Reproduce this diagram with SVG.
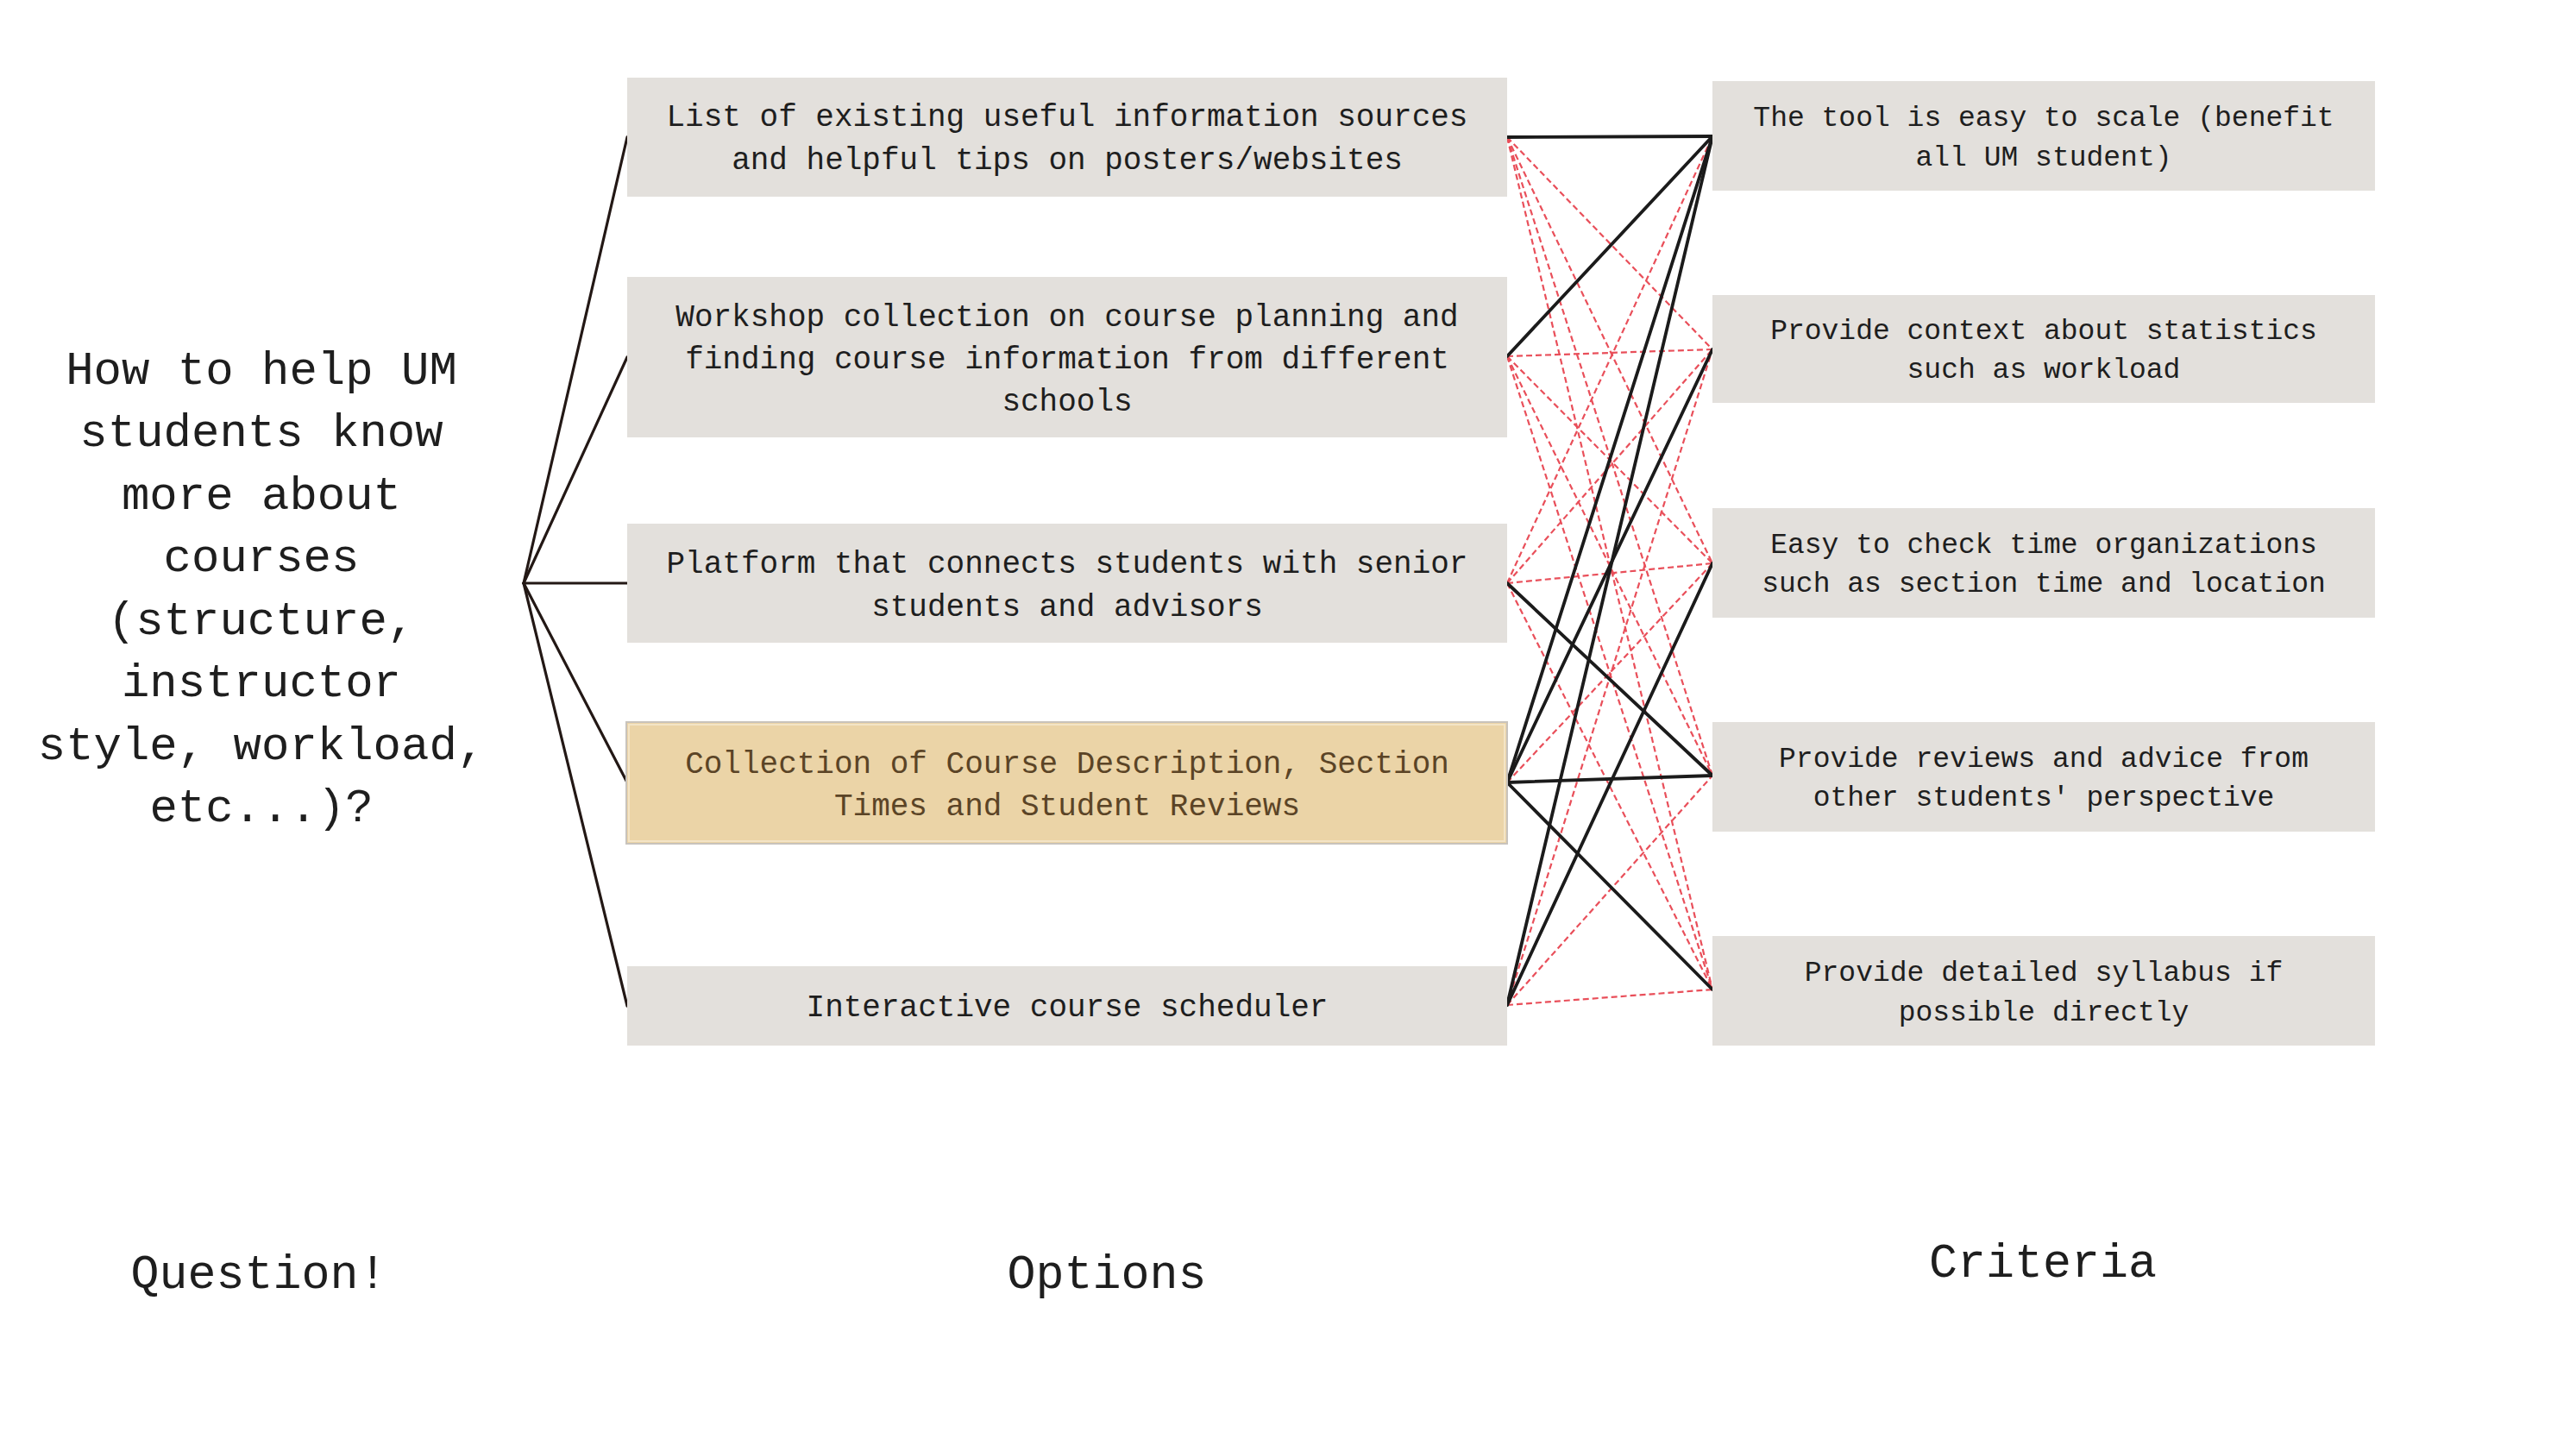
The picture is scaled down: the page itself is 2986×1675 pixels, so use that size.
<svg xmlns="http://www.w3.org/2000/svg" width="2986" height="1675" viewBox="0 0 2986 1675">
<style>
text{font-family:"Liberation Mono","DejaVu Sans Mono",monospace;fill:#1e1e1e;text-anchor:middle}
.box{fill:#e3e0dc}
.opt{font-size:36px}
.crit{font-size:33px}
.q{font-size:54px}
.lab{font-size:55px}
.hub{stroke:#231815;stroke-width:3.2;fill:none;stroke-linecap:round}
.yes{stroke:#1b1b1b;stroke-width:3.8;fill:none;stroke-linecap:round}
.no{stroke:#e94f5a;stroke-width:2.2;fill:none;stroke-dasharray:7 4}
.hl{fill:#5b4426}
</style>
<rect width="2986" height="1675" fill="#ffffff"/>
<g id="question">
<text class="q" x="303" y="445">How to help UM</text>
<text class="q" x="303" y="517">students know</text>
<text class="q" x="303" y="590">more about</text>
<text class="q" x="303" y="662">courses</text>
<text class="q" x="303" y="735">(structure,</text>
<text class="q" x="303" y="807">instructor</text>
<text class="q" x="303" y="880">style, workload,</text>
<text class="q" x="303" y="952">etc...)?</text>
</g>
<g id="connectors">
<g id="hub-lines">
<line class="hub" x1="607" y1="676" x2="727" y2="159"/>
<line class="hub" x1="607" y1="676" x2="727" y2="414"/>
<line class="hub" x1="607" y1="676" x2="727" y2="676"/>
<line class="hub" x1="607" y1="676" x2="727" y2="907"/>
<line class="hub" x1="607" y1="676" x2="727" y2="1166"/>
</g>
<g id="weak-links">
<line class="no" x1="1747" y1="159" x2="1985" y2="405"/>
<line class="no" x1="1747" y1="159" x2="1985" y2="653"/>
<line class="no" x1="1747" y1="159" x2="1985" y2="899"/>
<line class="no" x1="1747" y1="159" x2="1985" y2="1147"/>
<line class="no" x1="1747" y1="413" x2="1985" y2="405"/>
<line class="no" x1="1747" y1="413" x2="1985" y2="653"/>
<line class="no" x1="1747" y1="413" x2="1985" y2="899"/>
<line class="no" x1="1747" y1="413" x2="1985" y2="1147"/>
<line class="no" x1="1747" y1="676" x2="1985" y2="158"/>
<line class="no" x1="1747" y1="676" x2="1985" y2="405"/>
<line class="no" x1="1747" y1="676" x2="1985" y2="653"/>
<line class="no" x1="1747" y1="676" x2="1985" y2="1147"/>
<line class="no" x1="1747" y1="907" x2="1985" y2="653"/>
<line class="no" x1="1747" y1="1165" x2="1985" y2="405"/>
<line class="no" x1="1747" y1="1165" x2="1985" y2="899"/>
<line class="no" x1="1747" y1="1165" x2="1985" y2="1147"/>
</g>
<g id="strong-links">
<line class="yes" x1="1747" y1="159" x2="1985" y2="158"/>
<line class="yes" x1="1747" y1="413" x2="1985" y2="158"/>
<line class="yes" x1="1747" y1="676" x2="1985" y2="899"/>
<line class="yes" x1="1747" y1="907" x2="1985" y2="158"/>
<line class="yes" x1="1747" y1="907" x2="1985" y2="405"/>
<line class="yes" x1="1747" y1="907" x2="1985" y2="899"/>
<line class="yes" x1="1747" y1="907" x2="1985" y2="1147"/>
<line class="yes" x1="1747" y1="1165" x2="1985" y2="158"/>
<line class="yes" x1="1747" y1="1165" x2="1985" y2="653"/>
</g>
</g>
<g id="option-1">
<rect class="box" x="727" y="90" width="1020" height="138"/>
<text class="opt" x="1237" y="146">List of existing useful information sources</text>
<text class="opt" x="1237" y="196">and helpful tips on posters/websites</text>
</g>
<g id="option-2">
<rect class="box" x="727" y="321" width="1020" height="186"/>
<text class="opt" x="1237" y="378">Workshop collection on course planning and</text>
<text class="opt" x="1237" y="427">finding course information from different</text>
<text class="opt" x="1237" y="476">schools</text>
</g>
<g id="option-3">
<rect class="box" x="727" y="607" width="1020" height="138"/>
<text class="opt" x="1237" y="664">Platform that connects students with senior</text>
<text class="opt" x="1237" y="714">students and advisors</text>
</g>
<g id="option-4">
<rect x="726" y="837" width="1021" height="141" fill="#ebd4a7" stroke="#c8c3bc" stroke-width="2"/>
<rect x="729" y="840" width="1015" height="135" fill="none" stroke="#f3e4c6" stroke-width="2"/>
<text class="opt hl" x="1237" y="896">Collection of Course Description, Section</text>
<text class="opt hl" x="1237" y="945">Times and Student Reviews</text>
</g>
<g id="option-5">
<rect class="box" x="727" y="1120" width="1020" height="92"/>
<text class="opt" x="1237" y="1178">Interactive course scheduler</text>
</g>
<g id="criterion-1">
<rect class="box" x="1985" y="94" width="768" height="127"/>
<text class="crit" x="2369" y="146">The tool is easy to scale (benefit</text>
<text class="crit" x="2369" y="192">all UM student)</text>
</g>
<g id="criterion-2">
<rect class="box" x="1985" y="342" width="768" height="125"/>
<text class="crit" x="2369" y="393">Provide context about statistics</text>
<text class="crit" x="2369" y="438">such as workload</text>
</g>
<g id="criterion-3">
<rect class="box" x="1985" y="589" width="768" height="127"/>
<text class="crit" x="2369" y="641">Easy to check time organizations</text>
<text class="crit" x="2369" y="686">such as section time and location</text>
</g>
<g id="criterion-4">
<rect class="box" x="1985" y="837" width="768" height="127"/>
<text class="crit" x="2369" y="889">Provide reviews and advice from</text>
<text class="crit" x="2369" y="934">other students' perspective</text>
</g>
<g id="criterion-5">
<rect class="box" x="1985" y="1085" width="768" height="127"/>
<text class="crit" x="2369" y="1137">Provide detailed syllabus if</text>
<text class="crit" x="2369" y="1183">possible directly</text>
</g>
<g id="labels">
<text class="lab" x="300" y="1493">Question!</text>
<text class="lab" x="1283" y="1493">Options</text>
<text class="lab" x="2368" y="1480">Criteria</text>
</g>
</svg>
